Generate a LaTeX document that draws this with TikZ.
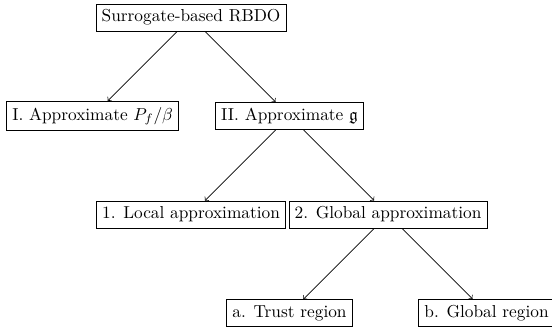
\documentclass[tikz,border=0pt]{standalone}
\usepackage{amssymb}
\tikzset{blk/.style={draw, rectangle}}
\begin{document}
\begin{tikzpicture}
    \useasboundingbox (-3.88,-6.30) rectangle (7.33,0.356);

    \node[blk] (rbdo) at (0,0) {Surrogate-based RBDO};

    \node[blk] (pf) at (-2,-2) {I. Approximate $P_f/\beta$};
    \node[blk] (g) at (2,-2) {II. Approximate $\mathfrak{g}$};

    \node[blk] (local) at (0,-4) {1. Local approximation};
    \node[blk] (global) at (4,-4) {2. Global approximation};

    \node[blk] (trust) at (2,-6) {a. Trust region};
    \node[blk] (globreg) at (6,-6) {b. Global region};

    \draw[->] (rbdo) -- (pf);
    \draw[->] (rbdo) -- (g);
    \draw[->] (g) -- (local);
    \draw[->] (g) -- (global);
    \draw[->] (global) -- (trust);
    \draw[->] (global) -- (globreg);

\end{tikzpicture}
\end{document}
